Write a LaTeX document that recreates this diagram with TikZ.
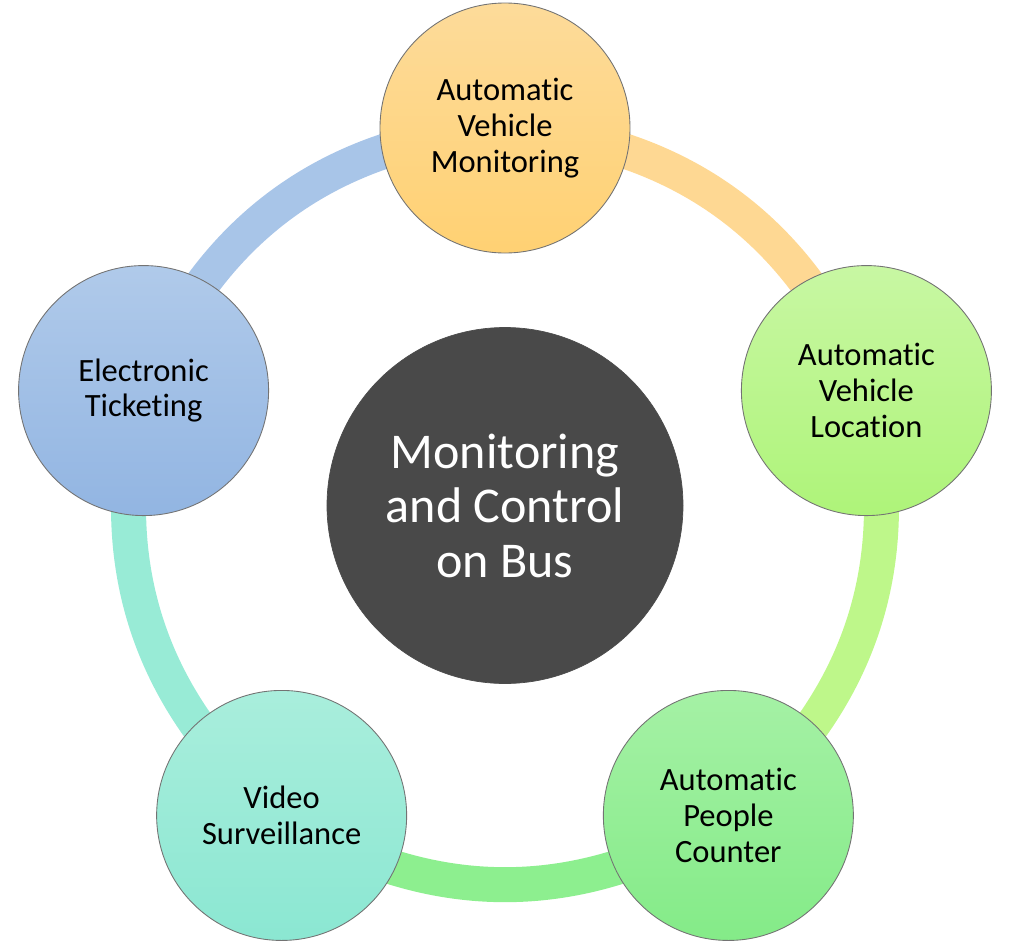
\documentclass[tikz,border=0pt]{standalone}
\usepackage{fontspec}
\setmainfont{Carlito}[Ligatures=NoCommon]
\usepackage{tikz}
\usepackage{xcolor}
\usetikzlibrary{backgrounds}
\definecolor{hubgray}{HTML}{494949}
\definecolor{orangetop}{HTML}{FDDB9A}
\definecolor{orangebot}{HTML}{FFD173}
\definecolor{limetop}{HTML}{C8F7A3}
\definecolor{limebot}{HTML}{AEF479}
\definecolor{greentop}{HTML}{A5F1A5}
\definecolor{greenbot}{HTML}{84EB88}
\definecolor{tealtop}{HTML}{A9EEDC}
\definecolor{tealbot}{HTML}{8BE7D2}
\definecolor{bluetop}{HTML}{B0CAEA}
\definecolor{bluebot}{HTML}{92B5E2}
\definecolor{orangering}{HTML}{FED893}
\definecolor{limering}{HTML}{BEF78A}
\definecolor{greenring}{HTML}{8DEF8F}
\definecolor{tealring}{HTML}{98EBD6}
\definecolor{bluering}{HTML}{A8C5E8}
\tikzset{
	item/.style={
		circle,
		draw=black!55,
		line width=0.5pt,
		align=center,
		minimum size=5cm,
		inner sep=0pt,
		font=\fontsize{18.5}{20.4}\selectfont
	},
	hub/.style={
		circle,
		draw=black!70,
		fill=hubgray,
		text=white,
		align=center,
		minimum size=7.12cm,
		inner sep=0pt,
		font=\fontsize{28.5}{31}\selectfont
	},
	ring/.style={
		line width=0.7cm
	}
}

\begin{document}
\begin{tikzpicture}
	\useasboundingbox (-10.1,-8.82) rectangle (10.26,10.16);
	\draw node[hub](Center) at (0,0.05){Monitoring\\ and Control\\ on Bus};
	\draw node[item, top color=orangetop, bottom color=orangebot](Monitoring) at (90:7.6){Automatic\\ Vehicle\\ Monitoring};
	\draw node[item, top color=limetop, bottom color=limebot](Location) at (18:7.6){Automatic\\ Vehicle\\ Location};
	\draw node[item, top color=greentop, bottom color=greenbot](Counter) at (-54:7.6){Automatic\\ People\\ Counter};
	\draw node[item, top color=tealtop, bottom color=tealbot](Surveillance) at (-126:7.6){Video\\ Surveillance};
	\draw node[item, top color=bluetop, bottom color=bluebot](Ticketing) at (162:7.6){Electronic\\ Ticketing};
	
	\begin{pgfonlayer}{background}
		\draw[ring, orangering] (Monitoring.center) to[bend left=32] (Location.center);
		\draw[ring, limering] (Location.center) to[bend left=32] (Counter.center);
		\draw[ring, greenring] (Counter.center) to[bend left=32] (Surveillance.center);
		\draw[ring, tealring] (Surveillance.center) to[bend left=32] (Ticketing.center);
		\draw[ring, bluering] (Ticketing.center) to[bend left=32] (Monitoring.center);
	\end{pgfonlayer}
\end{tikzpicture}
\end{document}
